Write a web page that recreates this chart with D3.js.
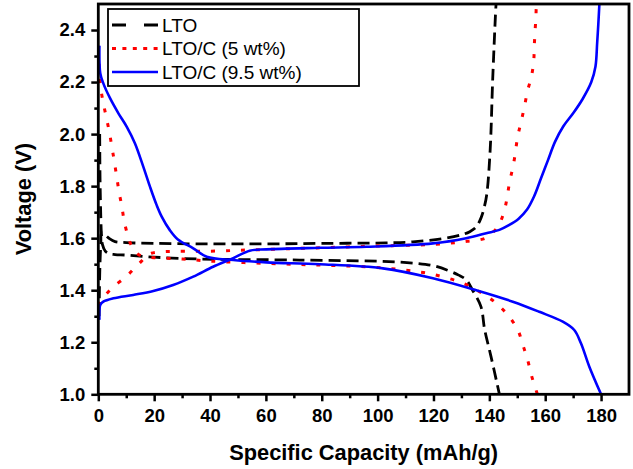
<!DOCTYPE html>
<html>
<head>
<meta charset="utf-8">
<script src="https://cdn.jsdelivr.net/npm/d3@7/dist/d3.min.js"></script>
<style>
  html, body { margin: 0; padding: 0; background: #fff; }
  svg { display: block; }
  text { font-family: "Liberation Sans", Arial, Helvetica, sans-serif; }
</style>
</head>
<body>
<svg id="chart" width="633" height="469"></svg>
<script>
// ---- data (capacity mAh/g, voltage V) ----
const seriesNames = ["LTO", "LTO/C (5 wt%)", "LTO/C (9.5 wt%)"];

const ltoDischarge = [
  [0.5, 2.0], [0.6, 1.85], [0.75, 1.75], [0.9, 1.68], [1.1, 1.62], [1.5, 1.575],
  [2.5, 1.55], [4, 1.54], [6, 1.537], [10, 1.535], [20, 1.527], [36, 1.52],
  [72, 1.516], [104, 1.51], [114, 1.503], [120, 1.494], [125, 1.477],
  [129, 1.458], [131.7, 1.44], [134, 1.40], [137, 1.337], [138.3, 1.25],
  [140.6, 1.145], [143.4, 1.01], [143.6, 1.0]
];
const ltoCharge = [
  [0.3, 1.30], [0.4, 1.40], [0.6, 1.50], [0.9, 1.58], [1.2, 1.62], [2.5, 1.612],
  [4, 1.598], [6, 1.587], [10, 1.583], [20, 1.58], [40, 1.578], [60, 1.578],
  [80, 1.58], [103, 1.582], [112.6, 1.586], [123, 1.598], [130, 1.613],
  [133, 1.625], [135.3, 1.643], [137.1, 1.68], [138.2, 1.72], [139.1, 1.77],
  [140.3, 1.94], [141.2, 2.21], [142.2, 2.46], [142.4, 2.5]
];
const c5Discharge = [
  [0.3, 2.27], [0.7, 2.19], [1.6, 2.13], [2.75, 2.07], [3.8, 2.016], [4.8, 1.955],
  [5.7, 1.897], [6.6, 1.836], [7.4, 1.779], [8.4, 1.724], [9.2, 1.67],
  [10.5, 1.612], [11.5, 1.58], [12.5, 1.56], [14, 1.54], [16, 1.53],
  [20, 1.525], [30, 1.52], [40, 1.512], [60, 1.503], [78, 1.497], [96, 1.49],
  [109, 1.478], [119.8, 1.461], [130.5, 1.427], [136.5, 1.394], [141.8, 1.356],
  [146.6, 1.305], [150.2, 1.247], [152, 1.19], [153.7, 1.132], [155.2, 1.068],
  [156.7, 1.017], [157.2, 1.0]
];
const c5Charge = [
  [0.3, 1.34], [0.5, 1.356], [1.2, 1.365], [4.8, 1.407], [10.2, 1.455],
  [13, 1.485], [15.3, 1.51], [17, 1.53], [19, 1.542], [23, 1.548], [40, 1.55],
  [55, 1.555], [70, 1.56], [85, 1.565], [100, 1.57], [115, 1.574],
  [125, 1.58], [132, 1.588], [138.6, 1.60], [141.5, 1.625], [143.4, 1.651],
  [145.4, 1.707], [147.4, 1.824], [148.6, 1.881], [150.2, 1.993],
  [151.4, 2.048], [152.6, 2.108], [153.7, 2.167], [155.1, 2.223],
  [155.9, 2.282], [156.1, 2.342], [156.4, 2.40], [156.7, 2.458], [156.8, 2.5]
];
const c95Discharge = [
  [0.4, 2.34], [0.7, 2.234], [1.8, 2.195], [4.2, 2.138], [7.2, 2.08],
  [10.2, 2.028], [13.1, 1.965], [16.1, 1.875], [18.5, 1.798], [20.9, 1.727],
  [22.7, 1.683], [25.6, 1.631], [28.5, 1.595], [34, 1.561], [38.8, 1.529],
  [48.3, 1.516], [60.2, 1.507], [79.3, 1.50], [101.9, 1.484], [119.8, 1.446],
  [135.3, 1.40], [148.4, 1.356], [157.9, 1.317], [166.3, 1.279],
  [170.4, 1.247], [172.8, 1.196], [175.8, 1.106], [180, 1.0]
];
const c95Charge = [
  [0.4, 1.286], [0.7, 1.343], [1.8, 1.356], [5.4, 1.369], [12.5, 1.382],
  [19.7, 1.397], [26.8, 1.42], [34, 1.452], [41.1, 1.49], [48.3, 1.523],
  [54.2, 1.552], [60.2, 1.557], [79.3, 1.563], [96, 1.567], [119.8, 1.58],
  [131.7, 1.60], [138.9, 1.619], [143.6, 1.632], [147, 1.65], [150.5, 1.675],
  [153.5, 1.71], [156, 1.76], [158.5, 1.83], [161, 1.9], [163.5, 1.97],
  [166.5, 2.03], [170, 2.08], [173.4, 2.135], [176.5, 2.2], [178, 2.26],
  [178.6, 2.35], [179, 2.42], [179.4, 2.5]
];

const xTicks = [0, 20, 40, 60, 80, 100, 120, 140, 160, 180];
const yTicks = [1.0, 1.2, 1.4, 1.6, 1.8, 2.0, 2.2, 2.4];
const xTitle = "Specific Capacity (mAh/g)";
const yTitle = "Voltage (V)";

// ---- layout ----
const svg = d3.select("#chart");
const L = 98.3, R = 629, T = 4, B = 394.3;
const x = d3.scaleLinear().domain([0, 190]).range([L, R]);
const y = d3.scaleLinear().domain([1.0, 2.5]).range([B, T]);

svg.append("defs").append("clipPath").attr("id", "clip")
  .append("rect").attr("x", L).attr("y", T).attr("width", R - L).attr("height", B - T);

const styles = [
  { color: "#000000", dash: "12,6", width: 2.8, legendDash: "14,18" },
  { color: "#ff0000", dash: "4,11", width: 3, legendDash: "4,6.4" },
  { color: "#0000ff", dash: null, width: 2.6, legendDash: null }
];
const curves = [
  [ltoDischarge, ltoCharge],
  [c5Discharge, c5Charge],
  [c95Discharge, c95Charge]
];

const line = d3.line().x(d => x(d[0])).y(d => y(d[1])).curve(d3.curveCatmullRom.alpha(0.5));

const g = svg.append("g").attr("clip-path", "url(#clip)");
curves.forEach((pair, i) => {
  pair.forEach(data => {
    g.append("path")
      .attr("d", line(data))
      .attr("fill", "none")
      .attr("stroke", styles[i].color)
      .attr("stroke-width", styles[i].width)
      .attr("stroke-dasharray", styles[i].dash);
  });
});

// ---- axes ----
const xMinor = d3.range(10, 190, 20);
const yMinor = d3.range(1.1, 2.5, 0.2);

const xAxis = svg.append("g").attr("transform", `translate(0,${B})`)
  .call(d3.axisBottom(x).tickValues(xTicks).tickFormat(d3.format("d")).tickSize(7).tickSizeOuter(0).tickPadding(8));
const yAxis = svg.append("g").attr("transform", `translate(${L},0)`)
  .call(d3.axisLeft(y).tickValues(yTicks).tickFormat(d3.format(".1f")).tickSize(7).tickSizeOuter(0).tickPadding(6));
svg.append("g").attr("transform", `translate(0,${B})`)
  .call(d3.axisBottom(x).tickValues(xMinor).tickFormat("").tickSize(4).tickSizeOuter(0));
svg.append("g").attr("transform", `translate(${L},0)`)
  .call(d3.axisLeft(y).tickValues(yMinor).tickFormat("").tickSize(4).tickSizeOuter(0));

svg.selectAll(".domain").remove();
svg.selectAll(".tick line").attr("stroke", "#000").attr("stroke-width", 2.5);
[xAxis, yAxis].forEach(a => a.selectAll("text")
  .attr("font-size", 18.5).attr("font-weight", "bold").attr("fill", "#000")
  .attr("font-family", "'Liberation Sans', Arial, sans-serif"));

// frame
svg.append("rect").attr("x", L).attr("y", T).attr("width", R - L).attr("height", B - T)
  .attr("fill", "none").attr("stroke", "#000").attr("stroke-width", 2.8);

// titles
svg.append("text").attr("x", (L + R) / 2).attr("y", 460).attr("text-anchor", "middle")
  .attr("font-size", 21.8).attr("font-weight", "bold").text(xTitle);
svg.append("text").attr("transform", `translate(31,${(T + B) / 2}) rotate(-90)`)
  .attr("text-anchor", "middle").attr("font-size", 21.8).attr("font-weight", "bold").text(yTitle);

// ---- legend ----
const lg = svg.append("g");
lg.append("rect").attr("x", 108).attr("y", 9).attr("width", 251).attr("height", 77)
  .attr("fill", "#fff").attr("stroke", "#000").attr("stroke-width", 1.8);
seriesNames.forEach((name, i) => {
  const ly = 25 + i * 23.5;
  lg.append("line").attr("x1", 112).attr("x2", 158).attr("y1", ly).attr("y2", ly)
    .attr("stroke", styles[i].color).attr("stroke-width", styles[i].width)
    .attr("stroke-dasharray", styles[i].legendDash);
  lg.append("text").attr("x", 162).attr("y", ly + 6.8).attr("font-size", 19)
    .attr("fill", "#000").text(name);
});
</script>
</body>
</html>
